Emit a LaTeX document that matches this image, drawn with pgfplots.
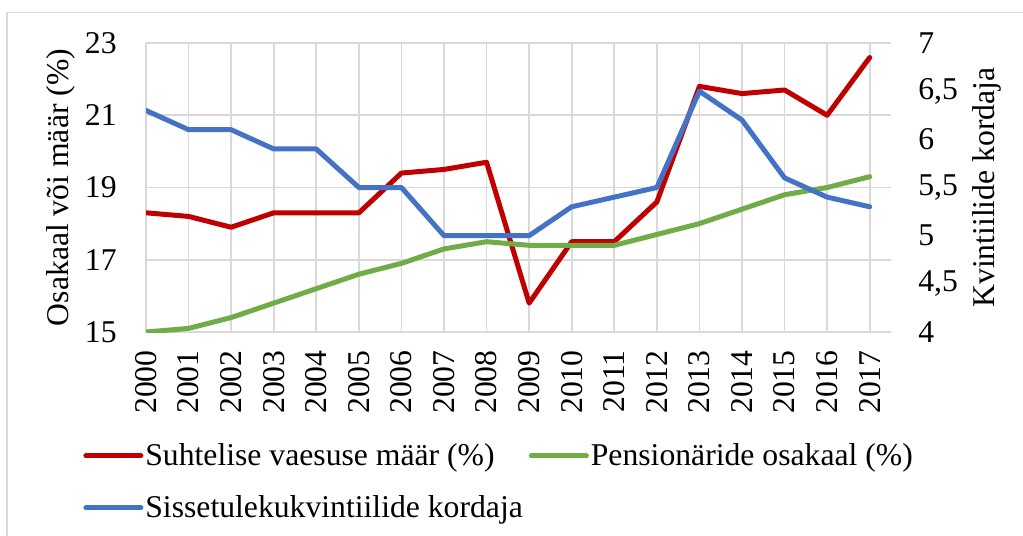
\documentclass[border=0pt]{standalone}
\usepackage{fontspec}
\setmainfont{Liberation Serif}
\usepackage{pgfplots}
\usepackage{pgfplotstable}
\pgfplotsset{compat=1.18}

\definecolor{cred}{HTML}{C00000}
\definecolor{cgreen}{HTML}{70AD47}
\definecolor{cblue}{HTML}{4472C4}
\definecolor{cgrid}{HTML}{D9D9D9}

\pgfplotstableread{
year vaesus pension kordaja
2000 18.3 15.0 6.3
2001 18.2 15.1 6.1
2002 17.9 15.4 6.1
2003 18.3 15.8 5.9
2004 18.3 16.2 5.9
2005 18.3 16.6 5.5
2006 19.4 16.9 5.5
2007 19.5 17.3 5.0
2008 19.7 17.5 5.0
2009 15.8 17.4 5.0
2010 17.5 17.4 5.3
2011 17.5 17.4 5.4
2012 18.6 17.7 5.5
2013 21.8 18.0 6.5
2014 21.6 18.4 6.2
2015 21.7 18.8 5.6
2016 21.0 19.0 5.4
2017 22.6 19.3 5.3
}\data

\begin{document}
\begin{tikzpicture}[font=\fontsize{15.9}{19}\selectfont]
\pgfplotsset{
  base/.style={
    width=372.5bp, height=144.5bp, scale only axis,
    at={(73bp,-166bp)}, anchor=south west,
    xmin=2000, xmax=2017.5,
    major tick length=0pt,
    axis line style={draw=none},
    /pgf/number format/assume math mode=true,
    /pgf/number format/use comma,
    /pgf/number format/1000 sep={},
  },
  serie/.style={line width=2.5bp, line join=round, line cap=round},
}
\begin{axis}[base,
  ymin=15, ymax=23, ytick={15,17,19,21,23},
  xtick={2000,2001,...,2017},
  grid=major, grid style={cgrid, line width=0.9bp},
  xticklabel style={yshift=-9bp, rotate=90, anchor=east, inner sep=0pt},
  yticklabel style={anchor=east, inner sep=0pt, xshift=-14.5bp},
  ylabel={Osakaal või määr (\%)},
  every axis y label/.style={at={(axis description cs:-0.114,0.5)}, rotate=90, anchor=center},
  legend columns=2,
  legend cell align=left,
  legend image code/.code={\draw[#1, line width=2.5bp, line cap=round] (0bp,0bp) -- (27.5bp,0bp);},
  legend style={at={(axis description cs:-0.0846,-0.377)}, anchor=north west,
    draw=none, fill=none, inner sep=0pt, row sep=11.5bp,
    nodes={inner sep=1bp},
    /tikz/every even column/.append style={column sep=2bp}},
]
\addplot[cred, serie] table[x=year, y=vaesus] {\data};
\addplot[cgreen, serie] table[x=year, y=pension] {\data};
\addlegendimage{cblue}
\legend{Suhtelise vaesuse määr (\%), Pensionäride osakaal (\%), Sissetulekukvintiilide kordaja}
\end{axis}
\begin{axis}[base,
  ymin=4, ymax=7, ytick={4,4.5,5,5.5,6,6.5,7},
  axis y line*=right, hide x axis,
  yticklabel style={anchor=west, inner sep=0pt, xshift=13.5bp},
  ylabel={Kvintiilide kordaja},
  every axis y label/.style={at={(axis description cs:1.129,0.5)}, rotate=90, anchor=center},
]
\addplot[cblue, serie] table[x=year, y=kordaja] {\data};
\end{axis}
\draw[cgrid, line width=0.9bp] (3.5bp,-6.25bp) rectangle (530bp,-290bp);
\pgfresetboundingbox
\path[use as bounding box] (0bp,0bp) rectangle (511.5bp,-268bp);
\end{tikzpicture}
\end{document}
